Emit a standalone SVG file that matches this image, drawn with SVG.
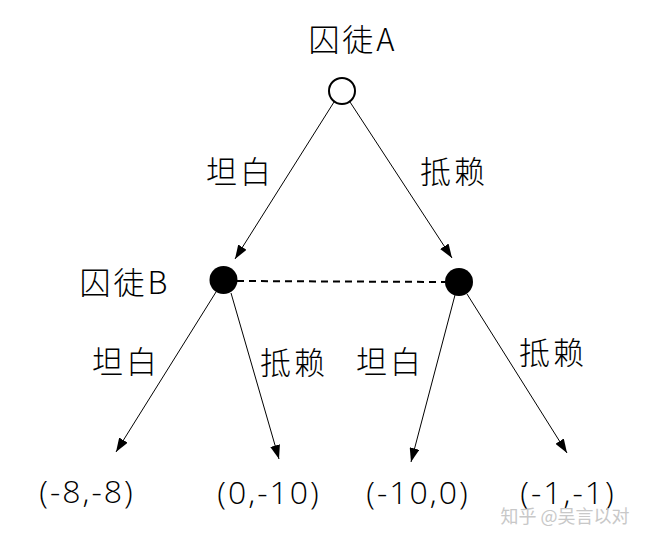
<svg xmlns="http://www.w3.org/2000/svg" width="651" height="544" viewBox="0 0 651 544">
<defs>
<marker id="arr" markerUnits="userSpaceOnUse" markerWidth="14" markerHeight="10" viewBox="0 0 14 10" refX="14" refY="5" orient="auto">
<path d="M0,0 L14,5 L0,10 Z" fill="#000"/>
</marker>
<style>
.t{font-family:"Noto Sans CJK SC","Liberation Sans",sans-serif;font-size:31px;font-weight:300;fill:#000;text-anchor:middle;letter-spacing:3px}
.p{font-family:"Open Sans","Liberation Sans",sans-serif;font-size:32px;font-weight:300;fill:#000;text-anchor:middle;letter-spacing:2px}
.w{font-family:"Noto Sans CJK SC",sans-serif;font-size:18px;fill:#c8c8c8;text-anchor:middle}
.e{stroke:#000;stroke-width:1;fill:none;marker-end:url(#arr)}
</style>
</defs>
<rect width="651" height="544" fill="#fff"/>
<g id="edges">
<line class="e" x1="334" y1="102" x2="235" y2="259"/>
<line class="e" x1="350" y1="102" x2="452" y2="258"/>
<line class="e" x1="216" y1="292" x2="116" y2="452"/>
<line class="e" x1="231" y1="293" x2="279" y2="459"/>
<line class="e" x1="455" y1="295" x2="411" y2="462"/>
<line class="e" x1="467" y1="294" x2="567" y2="453"/>
<line x1="237" y1="281" x2="445" y2="282" stroke="#000" stroke-width="2" stroke-dasharray="7,5"/>
</g>
<g id="nodeA">
<circle cx="342" cy="91" r="13" fill="#fff" stroke="#000" stroke-width="2"/>
<text class="t" x="353" y="51">囚徒A</text>
</g>
<g id="nodeB1">
<circle cx="223.5" cy="280" r="14" fill="#000"/>
<text class="t" x="125" y="294">囚徒B</text>
</g>
<g id="nodeB2">
<circle cx="459" cy="282" r="14" fill="#000"/>
</g>
<g id="labels">
<text class="t" x="240" y="183">坦白</text>
<text class="t" x="454" y="183">抵赖</text>
<text class="t" x="126" y="373">坦白</text>
<text class="t" x="294" y="374">抵赖</text>
<text class="t" x="390" y="373">坦白</text>
<text class="t" x="553" y="364">抵赖</text>
</g>
<g id="payoffs">
<text class="p" x="87" y="503">(-8,-8)</text>
<text class="p" x="269" y="504">(0,-10)</text>
<text class="p" x="418" y="504">(-10,0)</text>
<text class="p" x="568" y="504">(-1,-1)</text>
</g>
<text class="w" x="565" y="523">知乎 @吴言以对</text>
</svg>
